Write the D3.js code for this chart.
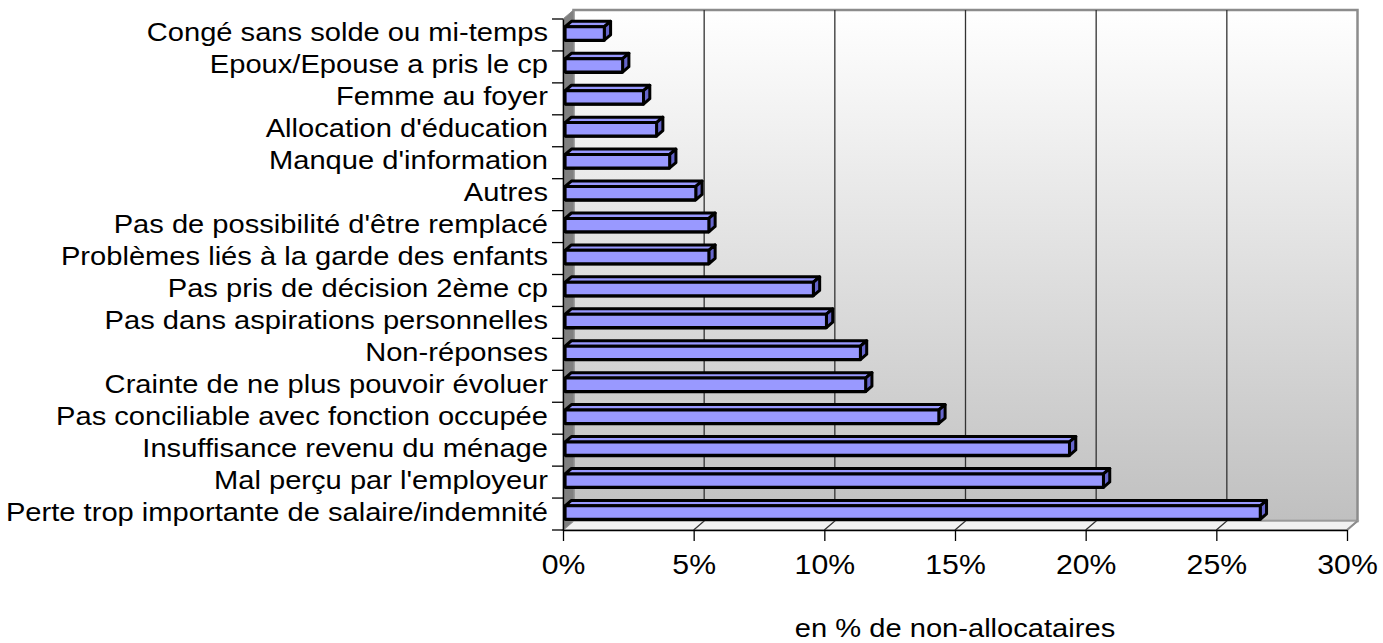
<!DOCTYPE html>
<html>
<head>
<meta charset="utf-8">
<script src="https://cdn.jsdelivr.net/npm/d3@7"></script>
<style>
  body { margin: 0; background: #fff; }
  text { font-family: "Liberation Sans", Arial, sans-serif; fill: #000; }
</style>
</head>
<body>
<svg id="chart"></svg>
<script>
// categories top to bottom, values in % of non-allocataires
const categories = [
  "Congé sans solde ou mi-temps",
  "Epoux/Epouse a pris le cp",
  "Femme au foyer",
  "Allocation d'éducation",
  "Manque d'information",
  "Autres",
  "Pas de possibilité d'être remplacé",
  "Problèmes liés à la garde des enfants",
  "Pas pris de décision 2ème cp",
  "Pas dans aspirations personnelles",
  "Non-réponses",
  "Crainte de ne plus pouvoir évoluer",
  "Pas conciliable avec fonction occupée",
  "Insuffisance revenu du ménage",
  "Mal perçu par l'employeur",
  "Perte trop importante de salaire/indemnité"
];
const values = [1.5, 2.2, 3.0, 3.5, 4.0, 5.0, 5.5, 5.5, 9.5, 10.0, 11.3, 11.5, 14.3, 19.3, 20.6, 26.6];
const tickValues = [0, 5, 10, 15, 20, 25, 30];
const axisTitle = "en % de non-allocataires";

const width = 1383, height = 643;
const DX = 10.5, DY = -9;          // depth offset of the back wall
const stretch = 1.12;               // horizontal text stretch of the original export

const svg = d3.select("#chart").attr("width", width).attr("height", height);

const x = d3.scaleLinear().domain([0, 30]).range([563, 1347]);
const y = d3.scaleBand().domain(categories).range([19, 530]);
const yTop = y.range()[0], yBot = y.range()[1];

const defs = svg.append("defs");
const wallGrad = defs.append("linearGradient").attr("id", "wall")
  .attr("x1", 0).attr("y1", 0).attr("x2", 0).attr("y2", 1);
wallGrad.append("stop").attr("offset", "0%").attr("stop-color", "#ffffff");
wallGrad.append("stop").attr("offset", "100%").attr("stop-color", "#c0c0c0");

const pts = a => a.map(p => p.join(",")).join(" ");

// back wall
svg.append("rect")
  .attr("x", x(0) + DX).attr("y", yTop + DY)
  .attr("width", x(30) - x(0)).attr("height", yBot - yTop)
  .attr("fill", "url(#wall)")
  .attr("stroke", "#8c8c8c").attr("stroke-width", 2.5);

// floor
svg.append("polygon")
  .attr("points", pts([[x(0), yBot], [x(30), yBot], [x(30) + DX, yBot + DY], [x(0) + DX, yBot + DY]]))
  .attr("fill", "#f2f2f2").attr("stroke", "#a0a0a0").attr("stroke-width", 1.5);

// left side wall
svg.append("polygon")
  .attr("points", pts([[x(0), yTop], [x(0) + DX, yTop + DY], [x(0) + DX, yBot + DY], [x(0), yBot]]))
  .attr("fill", "#808080").attr("stroke", "#8c8c8c").attr("stroke-width", 1);

// gridlines: diagonal on floor + vertical on back wall
const grid = svg.append("g").attr("stroke", "#333").attr("stroke-width", 1.3).attr("fill", "none");
tickValues.filter(t => t > 0 && t < 30).forEach(t => {
  grid.append("polyline")
    .attr("points", pts([[x(t), yBot], [x(t) + DX, yBot + DY], [x(t) + DX, yTop + DY]]));
});
grid.append("line")
  .attr("x1", x(30)).attr("y1", yBot).attr("x2", x(30) + DX).attr("y2", yBot + DY)
  .attr("stroke", "#8c8c8c").attr("stroke-width", 2);

// bars (oblique 3D boxes)
const f0 = 0.2, f1 = 0.8;
const P = (v, yy, f) => [x(v) + f * DX, yy + f * DY];
const barH = y.bandwidth() * 0.42;

const bars = svg.append("g").attr("stroke", "#000").attr("stroke-width", 3).attr("stroke-linejoin", "round");
categories.forEach((c, i) => {
  const v = values[i];
  const yc = y(c) + y.bandwidth() / 2 + 0.3;
  const t = yc - barH / 2, b = yc + barH / 2;
  const g = bars.append("g");
  g.append("polygon").attr("fill", "#9999ff")
    .attr("points", pts([P(0, t, f0), P(v, t, f0), P(v, t, f1), P(0, t, f1)]));
  g.append("polygon").attr("fill", "#6666cc")
    .attr("points", pts([P(v, t, f0), P(v, t, f1), P(v, b, f1), P(v, b, f0)]));
  g.append("polygon").attr("fill", "#9999ff")
    .attr("points", pts([P(0, t, f0), P(v, t, f0), P(v, b, f0), P(0, b, f0)]));
  // heavier lower edge, as in the original rendering
  g.append("line")
    .attr("x1", P(0, b, f0)[0]).attr("y1", b + f0 * DY + 0.8)
    .attr("x2", P(v, b, f0)[0]).attr("y2", b + f0 * DY + 0.8)
    .attr("stroke-width", 2);
});

// x axis (front)
const xAxis = svg.append("g")
  .attr("transform", `translate(0, ${yBot})`)
  .call(d3.axisBottom(x).tickValues(tickValues).tickFormat(d => d + "%").tickSize(11).tickSizeOuter(0));
xAxis.select(".domain").attr("stroke", "#000").attr("stroke-width", 1.3);
xAxis.selectAll(".tick line").attr("stroke", "#000").attr("stroke-width", 1.3);
xAxis.selectAll(".tick text")
  .attr("y", 44).attr("dy", 0)
  .attr("font-size", 27)
  .attr("font-family", "Liberation Sans, Arial, sans-serif")
  .attr("transform", `scale(${stretch},1)`);

// y axis (front left edge)
const yAxis = svg.append("g")
  .attr("transform", `translate(${x(0)}, 0)`)
  .call(d3.axisLeft(y).tickSize(0).tickPadding(0).tickSizeOuter(0));
yAxis.select(".domain").attr("stroke", "#000").attr("stroke-width", 1.3);
yAxis.selectAll(".tick text")
  .attr("x", -15 / stretch).attr("dy", 0).attr("y", 6.5)
  .attr("font-size", 26)
  .attr("font-family", "Liberation Sans, Arial, sans-serif")
  .attr("transform", `scale(${stretch},1)`);

// category boundary ticks
yAxis.selectAll(".bound")
  .data(categories.map(c => y(c)).concat([yBot]))
  .join("line")
  .attr("class", "bound")
  .attr("x1", -11).attr("x2", 0)
  .attr("y1", d => d).attr("y2", d => d)
  .attr("stroke", "#000").attr("stroke-width", 1.3);

// axis title
svg.append("text")
  .attr("transform", `translate(955, 637) scale(${stretch},1)`)
  .attr("text-anchor", "middle")
  .attr("font-size", 26)
  .text(axisTitle);
</script>
</body>
</html>
